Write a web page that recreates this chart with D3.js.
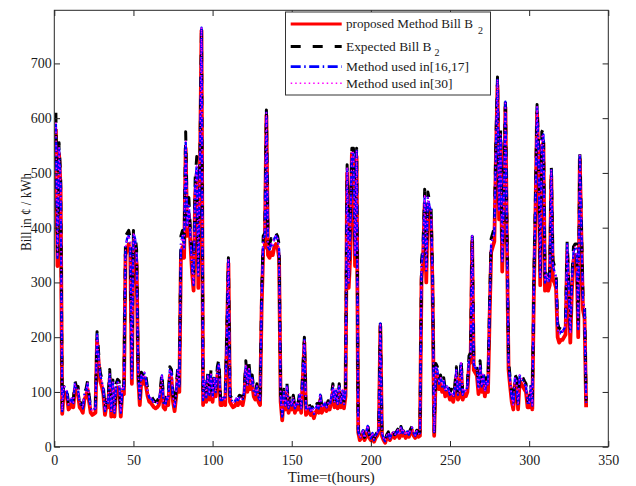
<!DOCTYPE html>
<html>
<head>
<meta charset="utf-8">
<script src="https://cdn.jsdelivr.net/npm/d3@7"></script>
<style>
  body { margin: 0; background: #fff; }
  svg text { font-family: "Liberation Serif", "Times New Roman", Times, serif; fill: #1a1a1a; }
</style>
</head>
<body>
<svg id="chart" width="636" height="486"></svg>
<script>
// Hourly bill (¢/kWh) over two weeks, one row per day (24 hours)
const proposedBill = [
  580,330,535,470,60,100,98,92,68,72,80,72,105,96,96,72,68,62,86,92,105,82,62,58,
  60,62,195,155,120,110,96,58,76,72,125,55,108,55,100,108,105,55,100,96,350,360,370,355,
  115,375,365,335,125,76,120,115,125,110,92,82,80,76,72,70,72,76,92,120,72,68,82,76,
  130,125,82,65,92,130,100,350,365,345,545,385,425,370,320,285,460,500,290,500,760,76,110,82,
  120,86,125,82,115,92,130,140,76,76,82,76,190,335,82,76,72,74,80,76,82,80,76,92,
  140,100,135,105,115,92,86,100,82,76,255,360,365,605,350,345,355,350,365,370,365,345,82,48,
  92,68,100,62,76,68,82,62,72,68,86,62,125,190,58,62,68,58,62,52,62,68,62,86,
  62,68,72,65,72,68,82,100,72,96,70,100,72,96,70,92,500,290,350,535,525,330,530,26,
  12,16,26,12,20,33,16,12,20,9,16,20,26,220,20,12,7,16,20,12,18,24,16,20,
  26,16,30,20,26,16,24,18,26,30,20,16,24,18,20,305,345,445,300,440,425,415,285,20,
  135,130,105,115,100,110,92,100,96,86,92,82,96,130,86,92,145,86,96,92,100,150,155,375,
  140,135,130,96,140,100,125,92,110,100,235,355,365,375,530,660,415,555,320,435,620,365,140,110,
  82,68,115,110,68,120,115,110,105,100,72,72,100,68,285,430,610,510,295,550,555,285,300,285,
  295,495,305,300,290,200,190,195,195,200,205,355,275,190,285,340,350,345,200,525,385,250,235,72
];

const expectedBill = [
  610,355,555,495,70,115,112,104,78,84,92,84,120,110,110,84,78,73,99,105,120,94,73,68,
  71,73,210,172,136,125,110,68,89,84,141,65,122,65,115,123,120,65,115,110,385,390,395,380,
  130,395,390,360,140,89,136,131,141,126,105,94,92,89,84,82,84,89,105,136,84,79,94,89,
  146,141,94,76,105,146,115,385,395,370,575,415,455,395,340,305,490,530,320,525,770,89,126,94,
  136,99,140,94,131,105,146,160,89,89,94,89,210,345,94,89,84,86,92,89,94,92,89,105,
  157,115,152,120,131,105,99,115,94,89,280,385,390,615,375,370,380,375,385,390,385,370,94,58,
  105,79,115,73,89,79,94,73,84,79,99,73,141,200,68,73,79,68,73,63,73,79,73,99,
  73,79,84,76,84,79,94,115,84,110,82,115,84,110,82,105,515,310,410,545,545,360,545,32,
  17,22,32,17,27,40,22,17,27,14,22,27,32,228,27,17,12,22,27,17,24,30,22,27,
  32,22,37,27,32,22,30,24,32,37,27,22,30,24,27,340,370,470,330,465,450,440,310,27,
  152,146,120,131,115,126,105,115,110,99,105,94,110,146,99,105,162,99,110,105,115,166,172,390,
  157,152,146,110,157,115,141,105,126,115,260,380,390,400,560,675,445,580,345,460,640,390,157,126,
  94,79,131,126,79,136,131,126,120,115,84,84,115,79,310,460,625,545,320,575,580,310,325,310,
  320,510,340,330,320,225,215,220,220,225,230,375,300,215,310,365,370,370,225,540,410,275,260,84
];

const method1617 = [
  590,345,545,480,65,110,108,100,75,80,88,80,115,105,105,80,75,70,95,100,115,90,70,65,
  68,70,205,165,130,120,105,65,85,80,135,62,117,62,110,118,115,62,110,105,365,380,385,370,
  125,390,380,350,135,85,130,125,135,120,100,90,88,85,80,78,80,85,100,130,80,75,90,85,
  140,135,90,73,100,140,110,370,385,360,560,400,440,385,330,295,475,515,310,515,765,85,120,90,
  130,95,135,90,125,100,140,150,85,85,90,85,200,340,90,85,80,82,88,85,90,88,85,100,
  150,110,145,115,125,100,95,110,90,85,270,380,385,610,365,360,370,365,380,385,380,360,90,55,
  100,75,110,70,85,75,90,70,80,75,95,70,135,195,65,70,75,65,70,60,70,75,70,95,
  70,75,80,72,80,75,90,110,80,105,78,110,80,105,78,100,510,300,400,540,535,350,540,30,
  15,20,30,15,25,38,20,15,25,12,20,25,30,225,25,15,10,20,25,15,22,28,20,25,
  30,20,35,25,30,20,28,22,30,35,25,20,28,22,25,330,360,460,320,455,440,430,300,25,
  145,140,115,125,110,120,100,110,105,95,100,90,105,140,95,100,155,95,105,100,110,160,165,385,
  150,145,140,105,150,110,135,100,120,110,250,370,380,390,545,670,430,570,335,450,630,380,150,120,
  90,75,125,120,75,130,125,120,115,110,80,80,110,75,300,450,620,530,310,565,570,300,315,300,
  310,505,330,320,310,215,205,210,210,215,220,370,290,205,300,355,365,360,215,535,400,265,250,80
];

const method30 = [
  592,347,546,482,66,111,108,101,76,81,89,81,116,106,105,81,76,71,96,101,116,91,71,66,
  69,71,206,166,131,121,106,66,86,81,136,63,118,63,111,119,116,63,111,106,366,381,386,371,
  126,391,381,351,136,86,131,126,136,121,101,91,89,86,81,79,81,86,101,131,81,76,91,86,
  141,136,91,74,101,141,111,371,386,361,562,401,441,386,331,296,476,516,311,516,766,86,121,91,
  131,96,136,91,126,101,141,151,86,86,91,86,201,341,91,86,81,83,89,86,91,89,86,101,
  151,111,146,116,126,101,96,111,91,86,271,381,386,611,366,361,371,366,381,386,381,361,91,56,
  101,76,111,71,86,76,91,71,81,76,96,71,136,196,66,71,76,66,71,61,71,76,71,96,
  71,76,81,73,81,76,91,111,81,106,79,111,81,106,79,101,511,301,401,541,536,351,541,31,
  16,21,31,16,26,39,21,16,26,13,21,26,31,226,26,16,11,21,26,16,23,29,21,26,
  31,21,36,26,31,21,29,23,31,36,26,21,29,23,26,331,361,461,321,456,441,431,301,26,
  146,141,116,126,111,121,101,111,106,96,101,91,106,141,96,101,156,96,106,101,111,161,166,386,
  151,146,141,106,151,111,136,101,121,111,251,371,381,391,546,671,431,571,336,451,631,381,151,121,
  91,76,126,121,76,131,126,121,116,111,81,81,111,76,301,451,621,531,311,566,571,301,316,301,
  311,506,331,321,311,216,206,211,211,216,221,371,291,206,301,356,366,361,216,536,401,266,251,81
];

const xTicks = [0, 50, 100, 150, 200, 250, 300, 350];
const yTicks = [0, 100, 200, 300, 400, 500, 600, 700];
const legendLabels = ["proposed Method Bill B", "Expected Bill B", "Method used in[16,17]", "Method used in[30]"];
const legendSubs = ["2", "2", "", ""];
const xTitle = "Time=t(hours)";
const yTitle = "Bill in ¢ / kWh";

const hours = method1617.map((_, i) => i + 1);

// ---- layout ----
const plot = { left: 54.3, right: 608.3, top: 10.3, bottom: 446.7 };
const axisColor = "#262626";

const svg = d3.select("#chart");
svg.append("rect").attr("width", 636).attr("height", 486).attr("fill", "#fff");

const x = d3.scaleLinear().domain([0, 350]).range([plot.left, plot.right]);
const y = d3.scaleLinear().domain([0, 797]).range([plot.bottom, plot.top]);

const styles = [
  { color: "#ff0000", width: 3.8, dash: null },
  { color: "#000000", width: 3.0, dash: "10,12" },
  { color: "#0000ff", width: 2.4, dash: "10,3.5,1.5,3.5" },
  { color: "#ff00ff", width: 1.4, dash: "1.5,3" }
];
const seriesData = [proposedBill, expectedBill, method1617, method30];

svg.append("clipPath").attr("id", "plot-clip")
  .append("rect")
  .attr("x", plot.left).attr("y", plot.top)
  .attr("width", plot.right - plot.left).attr("height", plot.bottom - plot.top);

const line = d3.line()
  .x((d, i) => x(hours[i]))
  .y(d => y(d));

const lines = svg.append("g").attr("clip-path", "url(#plot-clip)");
seriesData.forEach((vals, k) => {
  const s = styles[k];
  lines.append("path")
    .datum(vals)
    .attr("d", line)
    .attr("fill", "none")
    .attr("stroke", s.color)
    .attr("stroke-width", s.width)
    .attr("stroke-linejoin", "round")
    .attr("stroke-dasharray", s.dash);
});

// ---- axes: inward ticks on all four sides ----
function styleAxis(g) {
  g.select(".domain").remove();
  g.selectAll(".tick line").attr("stroke", axisColor);
  g.selectAll("text")
    .attr("font-family", "'Liberation Serif', 'Times New Roman', serif")
    .attr("font-size", 14)
    .attr("fill", "#1a1a1a");
}

svg.append("g")
  .attr("transform", `translate(0,${plot.bottom})`)
  .call(d3.axisBottom(x).tickValues(xTicks).tickSizeInner(-5.7).tickSizeOuter(0).tickPadding(8))
  .call(styleAxis);

svg.append("g")
  .attr("transform", `translate(0,${plot.top})`)
  .call(d3.axisTop(x).tickValues(xTicks).tickSizeInner(-5.7).tickSizeOuter(0).tickFormat(""))
  .call(styleAxis);

svg.append("g")
  .attr("transform", `translate(${plot.left},0)`)
  .call(d3.axisLeft(y).tickValues(yTicks).tickSizeInner(-5.7).tickSizeOuter(0).tickPadding(2.5))
  .call(styleAxis);

svg.append("g")
  .attr("transform", `translate(${plot.right},0)`)
  .call(d3.axisRight(y).tickValues(yTicks).tickSizeInner(-5.7).tickSizeOuter(0).tickFormat(""))
  .call(styleAxis);

// axes box
svg.append("rect")
  .attr("x", plot.left).attr("y", plot.top)
  .attr("width", plot.right - plot.left).attr("height", plot.bottom - plot.top)
  .attr("fill", "none").attr("stroke", axisColor).attr("stroke-width", 1);

// ---- axis titles ----
svg.append("text")
  .attr("x", (plot.left + plot.right) / 2)
  .attr("y", 481.5)
  .attr("text-anchor", "middle")
  .attr("font-size", 15)
  .text(xTitle);

svg.append("text")
  .attr("transform", "translate(30.5,212) rotate(-90)")
  .attr("text-anchor", "middle")
  .attr("font-size", 14)
  .attr("textLength", 78)
  .attr("lengthAdjust", "spacingAndGlyphs")
  .text(yTitle);

// ---- legend ----
const legend = svg.append("g");
legend.append("rect")
  .attr("x", 285.5).attr("y", 12).attr("width", 205).attr("height", 83)
  .attr("fill", "#fff").attr("stroke", "#333").attr("stroke-width", 1);

const rowLineY = [24, 46.5, 66.7, 83.3];
const rowTextY = [28, 50.5, 71, 87.5];
const labelWidths = [127, 85.5, 123, 106.5];
const labelSizes = [13.1, 13.4, 13.5, 13.5];
const subX = [478, 434.5];
legendLabels.forEach((label, k) => {
  const s = styles[k];
  legend.append("line")
    .attr("x1", 290.7).attr("x2", 341.7)
    .attr("y1", rowLineY[k]).attr("y2", rowLineY[k])
    .attr("stroke", s.color)
    .attr("stroke-width", k === 3 ? 1.4 : 2.8)
    .attr("stroke-dasharray", s.dash);
  legend.append("text")
    .attr("x", 346).attr("y", rowTextY[k])
    .attr("font-size", labelSizes[k])
    .attr("textLength", labelWidths[k])
    .attr("lengthAdjust", "spacingAndGlyphs")
    .text(label);
  if (legendSubs[k]) {
    legend.append("text")
      .attr("x", subX[k]).attr("y", rowTextY[k] + 5.5)
      .attr("font-size", 10)
      .text(legendSubs[k]);
  }
});
</script>
</body>
</html>
